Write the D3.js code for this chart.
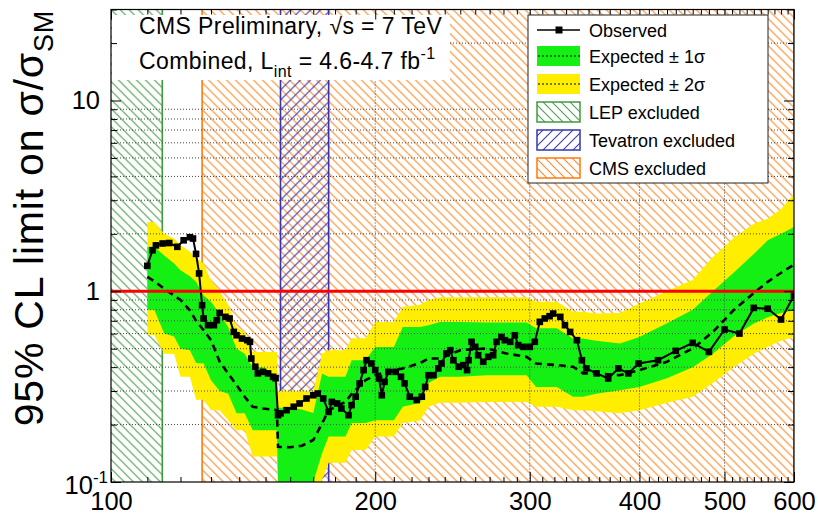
<!DOCTYPE html>
<html>
<head>
<meta charset="utf-8">
<script src="https://d3js.org/d3.v7.min.js"></script>
<style>
  body { margin: 0; background: #fff; }
  svg text { font-family: "Liberation Sans", Arial, Helvetica, sans-serif; }
</style>
</head>
<body>
<div id="chart"></div>
<script>
// Values (mass in GeV, limit in sigma/sigma_SM)
var obsMass = [110, 111.5, 112.5, 114.5, 116.5, 119, 121, 123, 124, 125,
    126, 127, 127.5, 129, 131, 132, 133, 135, 136.5, 138,
    139, 141, 143, 144, 144.5, 146, 147, 149, 151, 153,
    154, 155, 156, 158.5, 161.5, 164, 167, 170, 172, 174.5,
    177, 178.5, 181, 183, 186.5, 188, 190, 192, 194, 195.5,
    198, 200, 202, 203.5, 205, 207, 211, 214, 216, 219,
    223, 226, 228, 230, 233, 236, 238, 241, 243.5, 245.5,
    249, 252, 254.5, 255.5, 257.5, 260, 262, 265.5, 269, 272.5,
    275, 278.5, 281, 285, 288.5, 291, 295, 300, 304, 308,
    312, 316, 319, 325, 329, 333.5, 339.5, 344, 348, 357.5,
    368.5, 378.5, 388.5, 399, 420, 440, 460, 480, 500, 520,
    540, 560, 580, 600];
var obsLimit = [1.36, 1.64, 1.74, 1.78, 1.79, 1.71, 1.85, 1.92, 1.89, 1.57,
    1.24, 0.845, 0.72, 0.664, 0.664, 0.705, 0.77, 0.734, 0.72, 0.612,
    0.588, 0.565, 0.554, 0.543, 0.444, 0.402, 0.371, 0.378, 0.371, 0.356,
    0.35, 0.224, 0.229, 0.238, 0.248, 0.258, 0.274, 0.285, 0.291, 0.274,
    0.233, 0.263, 0.258, 0.243, 0.224, 0.253, 0.28, 0.329, 0.386, 0.435,
    0.418, 0.386, 0.349, 0.285, 0.335, 0.378, 0.378, 0.356, 0.329, 0.28,
    0.269, 0.28, 0.315, 0.363, 0.363, 0.394, 0.418, 0.472, 0.491, 0.435,
    0.402, 0.41, 0.386, 0.435, 0.543, 0.511, 0.462, 0.427, 0.453, 0.462,
    0.543, 0.576, 0.554, 0.543, 0.588, 0.522, 0.511, 0.511, 0.543, 0.691,
    0.72, 0.74, 0.764, 0.734, 0.664, 0.612, 0.554, 0.435, 0.394, 0.371,
    0.349, 0.394, 0.371, 0.418, 0.435, 0.487, 0.536, 0.481, 0.63, 0.60,
    0.818, 0.81, 0.711, 0.95];

var expMass = [110, 112, 115, 118, 120, 123, 125, 127.5, 130, 133,
    136, 139, 142, 145, 149, 154.5, 155, 160, 165, 170,
    174, 177, 185, 188, 195, 200, 210, 215, 225, 230,
    237, 250, 268, 282, 297.5, 305, 322, 336, 345, 357,
    380, 400, 430, 460, 485, 512, 540, 560, 580, 600];
var expMedian = [1.19, 1.13, 1.03, 0.95, 0.90, 0.795, 0.70, 0.625, 0.554, 0.427,
    0.37, 0.322, 0.28, 0.248, 0.243, 0.238, 0.153, 0.152, 0.155, 0.166,
    0.203, 0.238, 0.263, 0.29, 0.342, 0.363, 0.386, 0.394, 0.42, 0.444,
    0.444, 0.491, 0.501, 0.472, 0.453, 0.418, 0.41, 0.402, 0.371, 0.371,
    0.363, 0.386, 0.427, 0.501, 0.612, 0.795, 0.98, 1.12, 1.25, 1.38];
var expMinus2 = [0.59, 0.59, 0.47, 0.47, 0.356, 0.356, 0.27, 0.27, 0.238, 0.238,
    0.211, 0.187, 0.187, 0.136, 0.136, 0.136, 0.085, 0.085, 0.085, 0.085,
    0.103, 0.126, 0.126, 0.147, 0.147, 0.173, 0.173, 0.204, 0.21, 0.248,
    0.26, 0.26, 0.263, 0.263, 0.263, 0.248, 0.248, 0.238, 0.238, 0.235,
    0.229, 0.238, 0.26, 0.28, 0.33, 0.40, 0.47, 0.51, 0.55, 0.576];
var expMinus1 = [0.80, 0.80, 0.60, 0.58, 0.50, 0.49, 0.42, 0.418, 0.342, 0.30,
    0.29, 0.229, 0.229, 0.187, 0.187, 0.187, 0.10, 0.10, 0.10, 0.10,
    0.142, 0.173, 0.173, 0.204, 0.204, 0.211, 0.211, 0.248, 0.26, 0.33,
    0.356, 0.356, 0.363, 0.363, 0.363, 0.315, 0.315, 0.28, 0.28, 0.29,
    0.303, 0.315, 0.35, 0.40, 0.47, 0.58, 0.677, 0.73, 0.77, 0.795];
var expPlus1 = [1.71, 1.71, 1.54, 1.40, 1.29, 1.20, 1.12, 0.95, 0.88, 0.76,
    0.65, 0.50, 0.47, 0.40, 0.40, 0.36, 0.245, 0.245, 0.24, 0.23,
    0.37, 0.356, 0.356, 0.435, 0.435, 0.51, 0.51, 0.65, 0.65, 0.664,
    0.69, 0.69, 0.685, 0.685, 0.685, 0.64, 0.64, 0.565, 0.565, 0.55,
    0.532, 0.576, 0.68, 0.80, 1.0, 1.25, 1.57, 1.85, 2.0, 2.17];
var expPlus2 = [2.31, 2.31, 2.0, 1.89, 1.75, 1.61, 1.50, 1.40, 1.14, 1.0,
    0.85, 0.65, 0.61, 0.48, 0.48, 0.48, 0.30, 0.30, 0.30, 0.30,
    0.47, 0.49, 0.49, 0.567, 0.567, 0.69, 0.69, 0.83, 0.85, 0.897,
    0.93, 0.93, 0.93, 0.93, 0.93, 0.88, 0.88, 0.78, 0.78, 0.764,
    0.77, 0.862, 1.0, 1.15, 1.51, 1.9, 2.26, 2.4, 2.7, 3.24];

var lepExcluded = [100, 114.4];
var cmsExcluded = [127, 600];
var tevatronExcluded = [156, 177];
var smLine = 1;

var xTickLabels = [100, 200, 300, 400, 500, 600];
var xGrid = [200, 300, 400, 500];
var yTickLabels = [0.1, 1, 10];
var yMinor = [0.2, 0.3, 0.4, 0.5, 0.6, 0.7, 0.8, 0.9, 2, 3, 4, 5, 6, 7, 8, 9, 20, 30];
var yGrid = [0.2, 0.3, 0.4, 0.5, 0.6, 0.7, 0.8, 0.9, 2, 3, 4, 5, 6, 7, 8, 9, 20];

var legendLabels = ["Observed", "Expected \u00b1 1\u03c3", "Expected \u00b1 2\u03c3",
    "LEP excluded", "Tevatron excluded", "CMS excluded"];

var svgWidth = 818;
var svgHeight = 516;

var margin = {
    top: 9.5,
    right: 24,
    bottom: 34,
    left: 111
};

var width = svgWidth - margin.left - margin.right;
var height = svgHeight - margin.top - margin.bottom;

var svg = d3.select("#chart")
    .append("svg")
    .attr("width", svgWidth)
    .attr("height", svgHeight);

var defs = svg.append("defs");

// hatch patterns like the ROOT fill styles
function addHatch(id, color, size, dir) {
    var p = defs.append("pattern")
        .attr("id", id)
        .attr("patternUnits", "userSpaceOnUse")
        .attr("width", size)
        .attr("height", size);
    var d;
    if (dir === "back") {
        d = `M-1,-1 L${size + 1},${size + 1} M${-size / 2},${size / 2} L${size / 2},${size * 1.5} M${size / 2},${-size / 2} L${size * 1.5},${size / 2}`;
    } else {
        d = `M-1,${size + 1} L${size + 1},-1 M${-size / 2},${size / 2} L${size / 2},${-size / 2} M${size / 2},${size * 1.5} L${size * 1.5},${size / 2}`;
    }
    p.append("path")
        .attr("d", d)
        .attr("stroke", color)
        .attr("stroke-width", 1.1)
        .attr("fill", "none");
}
addHatch("hatchLep", "#4f9f4f", 9, "back");
addHatch("hatchCms", "#ff8a2a", 9, "back");
addHatch("hatchTev", "#3c3cb4", 10, "fwd");

defs.append("clipPath").attr("id", "plotClip")
    .append("rect")
    .attr("width", width)
    .attr("height", height);

var chartGroup = svg.append("g")
    .attr("transform", `translate(${margin.left}, ${margin.top})`);

var xLogScale = d3.scaleLog().domain([100, 600]).range([0, width]);
var yLogScale = d3.scaleLog().domain([0.1, 30]).range([height, 0]);

var plot = chartGroup.append("g").attr("clip-path", "url(#plotClip)");

// excluded regions
function region(range, fill) {
    plot.append("rect")
        .attr("x", xLogScale(range[0]))
        .attr("y", 0)
        .attr("width", xLogScale(range[1]) - xLogScale(range[0]))
        .attr("height", height)
        .attr("fill", fill);
}
region(lepExcluded, "url(#hatchLep)");
region(cmsExcluded, "url(#hatchCms)");
region(tevatronExcluded, "url(#hatchTev)");

function edge(v, color) {
    plot.append("line")
        .attr("x1", xLogScale(v)).attr("x2", xLogScale(v))
        .attr("y1", 0).attr("y2", height)
        .attr("stroke", color)
        .attr("stroke-width", 1.6);
}
edge(lepExcluded[1], "#3f9a3f");
edge(cmsExcluded[0], "#ff7a10");
edge(cmsExcluded[1], "#ff7a10");
edge(tevatronExcluded[0], "#3434b0");
edge(tevatronExcluded[1], "#3434b0");

// expected bands
var bandData = expMass.map(function (m, i) {
    return {
        mass: m, median: expMedian[i],
        m2: expMinus2[i], m1: expMinus1[i], p1: expPlus1[i], p2: expPlus2[i]
    };
});

var band2 = d3.area()
    .x(d => xLogScale(d.mass))
    .y0(d => yLogScale(d.m2))
    .y1(d => yLogScale(d.p2));
var band1 = d3.area()
    .x(d => xLogScale(d.mass))
    .y0(d => yLogScale(d.m1))
    .y1(d => yLogScale(d.p1));

plot.append("path").datum(bandData).attr("d", band2).attr("fill", "#ffee00");
plot.append("path").datum(bandData).attr("d", band1).attr("fill", "#14f014");

// dotted grid
plot.selectAll(".ygrid")
    .data(yGrid)
    .enter()
    .append("line")
    .attr("class", "ygrid")
    .attr("x1", 0).attr("x2", width)
    .attr("y1", d => yLogScale(d)).attr("y2", d => yLogScale(d))
    .attr("stroke", "#444")
    .attr("stroke-width", 1)
    .attr("stroke-dasharray", "1,2");

plot.selectAll(".xgrid")
    .data(xGrid)
    .enter()
    .append("line")
    .attr("class", "xgrid")
    .attr("x1", d => xLogScale(d)).attr("x2", d => xLogScale(d))
    .attr("y1", 0).attr("y2", height)
    .attr("stroke", "#444")
    .attr("stroke-width", 1)
    .attr("stroke-dasharray", "1,2");

// expected median
var medianLine = d3.line()
    .x(d => xLogScale(d.mass))
    .y(d => yLogScale(d.median));
plot.append("path").datum(bandData)
    .attr("d", medianLine)
    .attr("fill", "none")
    .attr("stroke", "#000")
    .attr("stroke-width", 2.6)
    .attr("stroke-dasharray", "7,5");

// observed
var obsData = obsMass.map((m, i) => ({mass: m, limit: obsLimit[i]}));
var obsLine = d3.line()
    .x(d => xLogScale(d.mass))
    .y(d => yLogScale(d.limit));
plot.append("path").datum(obsData)
    .attr("d", obsLine)
    .attr("fill", "none")
    .attr("stroke", "#000")
    .attr("stroke-width", 2);

plot.selectAll(".obsMarker")
    .data(obsData)
    .enter()
    .append("rect")
    .attr("class", "obsMarker")
    .attr("x", d => xLogScale(d.mass) - 3.3)
    .attr("y", d => yLogScale(d.limit) - 3.3)
    .attr("width", 6.6)
    .attr("height", 6.6)
    .attr("fill", "#000");

// SM line
plot.append("line")
    .attr("x1", 0).attr("x2", width)
    .attr("y1", yLogScale(smLine)).attr("y2", yLogScale(smLine))
    .attr("stroke", "#ff0000")
    .attr("stroke-width", 3);

// title box
chartGroup.append("rect")
    .attr("x", 1).attr("y", 5.5)
    .attr("width", 338).attr("height", 65)
    .attr("fill", "#fff");

var title1 = svg.append("text")
    .attr("x", 139).attr("y", 34)
    .attr("font-size", 23)
    .attr("letter-spacing", 0.4)
    .text("CMS Preliminary, \u221as = 7 TeV");

var title2 = svg.append("text")
    .attr("x", 139).attr("y", 69)
    .attr("font-size", 23)
    .attr("letter-spacing", 0.4);
title2.append("tspan").text("Combined, L");
title2.append("tspan").attr("font-size", 16).attr("dy", 8).text("int");
title2.append("tspan").attr("dy", -8).text(" = 4.6-4.7 fb");
title2.append("tspan").attr("font-size", 16).attr("dy", -10).text("-1");

// legend
var legend = svg.append("g").attr("transform", "translate(528, 15)");
legend.append("rect")
    .attr("width", 240).attr("height", 168)
    .attr("fill", "#fff")
    .attr("stroke", "#222")
    .attr("stroke-width", 1);

var rowY = [15, 41, 69, 97, 125, 153];
legendLabels.forEach(function (label, i) {
    var cy = rowY[i];
    if (i === 0) {
        legend.append("line")
            .attr("x1", 9).attr("x2", 52).attr("y1", cy).attr("y2", cy)
            .attr("stroke", "#000").attr("stroke-width", 1.5);
        legend.append("rect")
            .attr("x", 27.5).attr("y", cy - 3.5).attr("width", 7).attr("height", 7)
            .attr("fill", "#000");
    } else if (i === 1 || i === 2) {
        legend.append("rect")
            .attr("x", 9).attr("y", cy - 10).attr("width", 43).attr("height", 20)
            .attr("fill", i === 1 ? "#14f014" : "#ffee00");
        legend.append("line")
            .attr("x1", 10).attr("x2", 52).attr("y1", cy).attr("y2", cy)
            .attr("stroke", "#000").attr("stroke-width", 1)
            .attr("stroke-dasharray", "2,2");
    } else {
        var fills = ["url(#hatchLep)", "url(#hatchTev)", "url(#hatchCms)"];
        var strokes = ["#3f9a3f", "#3434b0", "#ff7a10"];
        legend.append("rect")
            .attr("x", 9).attr("y", cy - 10).attr("width", 43).attr("height", 20)
            .attr("fill", fills[i - 3])
            .attr("stroke", strokes[i - 3])
            .attr("stroke-width", 1.5);
    }
    legend.append("text")
        .attr("x", 61).attr("y", cy + 6.5)
        .attr("font-size", 18)
        .text(label);
});

// axes (ticks point inward as in ROOT)
function styleAxis(g) {
    g.select(".domain").remove();
    g.attr("font-family", "Liberation Sans, Arial, sans-serif")
        .attr("font-size", 25.5);
    g.selectAll(".tick line").attr("stroke", "#000");
    g.selectAll(".tick text").attr("fill", "#000");
}

var xMinor = d3.range(110, 600, 10).filter(d => d % 100 !== 0);

chartGroup.append("g")
    .attr("transform", `translate(0, ${height})`)
    .call(d3.axisBottom(xLogScale).tickValues(xMinor).tickSize(-5).tickFormat(""))
    .call(styleAxis);
chartGroup.append("g")
    .attr("transform", `translate(0, ${height})`)
    .call(d3.axisBottom(xLogScale).tickValues(xTickLabels).tickSize(-10).tickPadding(10)
        .tickFormat(d3.format("d")))
    .call(styleAxis);
chartGroup.append("g")
    .call(d3.axisTop(xLogScale).tickValues(xMinor).tickSize(-5).tickFormat(""))
    .call(styleAxis);
chartGroup.append("g")
    .call(d3.axisTop(xLogScale).tickValues(xTickLabels).tickSize(-10).tickFormat(""))
    .call(styleAxis);

chartGroup.append("g")
    .call(d3.axisLeft(yLogScale).tickValues(yMinor).tickSize(-6).tickFormat(""))
    .call(styleAxis);
var leftMajor = chartGroup.append("g")
    .call(d3.axisLeft(yLogScale).tickValues(yTickLabels).tickSize(-10).tickPadding(11)
        .tickFormat(d => d >= 1 ? d3.format("d")(d) : ""))
    .call(styleAxis);
leftMajor.selectAll(".tick text").each(function (d) {
    if (d < 1) {
        var t = d3.select(this).attr("x", -3).attr("y", 11).attr("dy", null);
        t.append("tspan").text("10");
        t.append("tspan").attr("dy", -11).attr("font-size", 17).text("-1");
    }
});
chartGroup.append("g")
    .attr("transform", `translate(${width}, 0)`)
    .call(d3.axisRight(yLogScale).tickValues(yMinor).tickSize(-6).tickFormat(""))
    .call(styleAxis);
chartGroup.append("g")
    .attr("transform", `translate(${width}, 0)`)
    .call(d3.axisRight(yLogScale).tickValues(yTickLabels).tickSize(-10).tickFormat(""))
    .call(styleAxis);

chartGroup.append("rect")
    .attr("width", width).attr("height", height)
    .attr("fill", "none")
    .attr("stroke", "#000")
    .attr("stroke-width", 1.2);

// y title
var yTitle = svg.append("text")
    .attr("transform", "translate(43, 10) rotate(-90)")
    .attr("text-anchor", "end")
    .attr("font-size", 41)
    .attr("letter-spacing", 0.8)
    .text("95% CL limit on \u03c3/\u03c3");
yTitle.append("tspan").attr("font-size", 27).attr("dy", 10).text("SM");
</script>
</body>
</html>
